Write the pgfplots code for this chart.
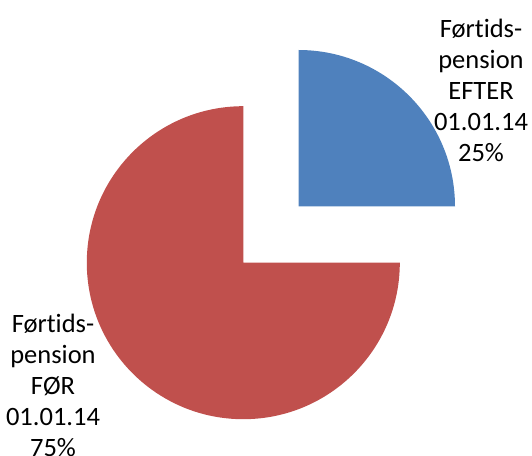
\documentclass[border=0pt]{standalone}
\usepackage{pgfplots}
\usepackage{pgfplotstable}
\pgfplotsset{compat=1.18}
\usepackage{fontspec}
\setmainfont{Carlito}[Ligatures=NoCommon]
\definecolor{pieblue}{HTML}{4F81BD}
\definecolor{piered}{HTML}{C0504D}
\pgfplotstableread{
label value cx cy
EFTER 25 298.5 249.5
FOR 75 243.3 193.3
}\piedata
\pgfplotstablegetelem{0}{value}\of\piedata \let\valA\pgfplotsretval
\pgfplotstablegetelem{1}{value}\of\piedata \let\valB\pgfplotsretval
\pgfplotstablegetelem{0}{cx}\of\piedata \let\cxA\pgfplotsretval
\pgfplotstablegetelem{0}{cy}\of\piedata \let\cyA\pgfplotsretval
\pgfplotstablegetelem{1}{cx}\of\piedata \let\cxB\pgfplotsretval
\pgfplotstablegetelem{1}{cy}\of\piedata \let\cyB\pgfplotsretval
\pgfmathsetmacro{\totAB}{\valA+\valB}
\pgfmathsetmacro{\startA}{90}
\pgfmathsetmacro{\endA}{90-(\valA/\totAB)*360}
\pgfmathsetmacro{\startB}{\endA}
\pgfmathsetmacro{\endB}{\startB-(\valB/\totAB)*360}
\begin{document}
\begin{tikzpicture}
\path[use as bounding box] (0,0) rectangle (532bp,456bp);
\begin{axis}[
  at={(0,0)}, anchor=south west,
  scale only axis, width=532bp, height=456bp,
  xmin=0, xmax=532, ymin=0, ymax=456,
  hide axis, clip=false,
]
\fill[pieblue] (axis cs:\cxA,\cyA) -- ++(\startA:156.5bp) arc[start angle=\startA, end angle=\endA, radius=156.5bp] -- cycle;
\fill[piered] (axis cs:\cxB,\cyB) -- ++(\startB:156.5bp) arc[start angle=\startB, end angle=\endB, radius=156.5bp] -- cycle;
\node[align=center, font=\fontsize{26.5bp}{31bp}\selectfont, inner sep=0pt] at (axis cs:481,366) {Førtids-\\pension\\EFTER\\01.01.14\\25\%};
\node[align=center, font=\fontsize{26.5bp}{31bp}\selectfont, inner sep=0pt] at (axis cs:53,71) {Førtids-\\pension\\FØR\\01.01.14\\75\%};
\end{axis}
\end{tikzpicture}
\end{document}
